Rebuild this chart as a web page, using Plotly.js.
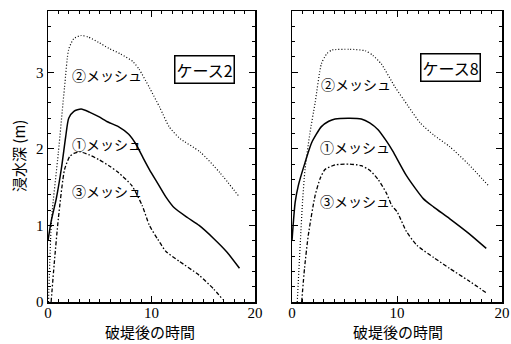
<!DOCTYPE html>
<html>
<head>
<meta charset="utf-8">
<script src="https://cdn.plot.ly/plotly-3.0.1.min.js"></script>
<style>html,body{margin:0;padding:0;background:#fff;}#chart{width:511px;height:344px;}</style>
</head>
<body>
<div id="chart"></div>
<script>
// ---- Data ----
// Case 2 (left panel)
const c2_mesh1_x = [0, 0.3, 0.8, 1.3, 1.7, 2.0, 2.5, 3.2, 4.0, 4.9, 5.8, 6.8, 7.8, 8.5, 9.2, 9.8, 10.6, 11.4, 12.2, 13.5, 14.6, 16.0, 17.3, 18.5];
const c2_mesh1_y = [0.8, 1.05, 1.35, 1.75, 2.15, 2.40, 2.49, 2.52, 2.48, 2.42, 2.35, 2.29, 2.19, 2.06, 1.88, 1.73, 1.55, 1.37, 1.23, 1.10, 1.00, 0.83, 0.65, 0.44];
const c2_mesh2_x = [0.05, 0.35, 1.0, 1.6, 2.0, 2.5, 3.2, 3.9, 4.9, 5.9, 7.0, 8.2, 8.8, 9.8, 10.8, 11.7, 12.7, 14.7, 16.6, 18.5];
const c2_mesh2_y = [0, 1.09, 1.95, 2.81, 3.30, 3.44, 3.48, 3.46, 3.39, 3.31, 3.24, 3.14, 3.04, 2.80, 2.54, 2.29, 2.14, 1.96, 1.69, 1.37];
const c2_mesh3_x = [0.3, 0.6, 1.0, 1.6, 2.1, 2.5, 3.1, 4.0, 4.9, 6.0, 6.8, 8.1, 9.1, 9.8, 10.6, 11.4, 12.7, 14.6, 16.0, 16.9];
const c2_mesh3_y = [0, 0.5, 1.09, 1.73, 1.90, 1.94, 1.96, 1.92, 1.86, 1.77, 1.69, 1.52, 1.26, 1.00, 0.82, 0.66, 0.53, 0.35, 0.17, 0.03];
// Case 8 (right panel)
const c8_mesh1_x = [0, 0.3, 0.6, 1.24, 1.87, 2.8, 3.5, 4.1, 5.5, 6.6, 7.4, 8.2, 9.0, 9.6, 10.9, 12.5, 13.5, 15.0, 16.8, 18.5];
const c8_mesh1_y = [0.8, 1.3, 1.52, 1.82, 2.08, 2.29, 2.36, 2.39, 2.40, 2.39, 2.34, 2.25, 2.10, 1.97, 1.65, 1.35, 1.24, 1.09, 0.90, 0.70];
const c8_mesh2_x = [0.5, 0.8, 1.0, 1.24, 1.7, 2.2, 2.8, 3.3, 3.8, 5.5, 7.0, 7.7, 8.5, 9.8, 11.0, 12.2, 13.5, 15.0, 16.8, 18.7];
const c8_mesh2_y = [0, 0.8, 1.3, 1.73, 2.2, 2.6, 3.11, 3.24, 3.29, 3.30, 3.28, 3.22, 3.11, 2.81, 2.57, 2.34, 2.18, 2.03, 1.80, 1.52];
const c8_mesh3_x = [0.92, 1.2, 1.55, 2.2, 2.7, 3.14, 4.1, 5.5, 6.6, 7.4, 8.2, 9.0, 9.5, 10.0, 10.9, 11.9, 13.5, 15.0, 16.8, 18.5];
const c8_mesh3_y = [0, 0.45, 0.87, 1.39, 1.62, 1.73, 1.79, 1.80, 1.78, 1.72, 1.60, 1.42, 1.26, 1.18, 0.92, 0.74, 0.58, 0.44, 0.28, 0.12];

const seriesLabels = ['①メッシュ', '②メッシュ', '③メッシュ'];
const caseLabels = ['ケース2', 'ケース8'];
const xTitle = '破堤後の時間';
const yTitle = '浸水深 (m)';
const xTicks = [0, 10, 20];
const yTicks = [0, 1, 2, 3];

// ---- Styling ----
const numFont = '"Liberation Serif", "DejaVu Serif", serif';
const jaFont = '"Noto Sans CJK JP", sans-serif';
const styles = [
  {color: 'black', width: 1.5, dash: 'solid'},
  {color: 'black', width: 1.2, dash: '1px,2px'},
  {color: 'black', width: 1.3, dash: '4px,2px,1.5px,2px'}
];

function tr(x, y, i, xa, ya) {
  return {x: x, y: y, xaxis: xa, yaxis: ya, mode: 'lines', name: seriesLabels[i],
    line: Object.assign({shape: 'spline', smoothing: 0.6}, styles[i]), showlegend: false, hoverinfo: 'skip'};
}

const data = [
  tr(c2_mesh1_x, c2_mesh1_y, 0, 'x', 'y'),
  tr(c2_mesh2_x, c2_mesh2_y, 1, 'x', 'y'),
  tr(c2_mesh3_x, c2_mesh3_y, 2, 'x', 'y'),
  tr(c8_mesh1_x, c8_mesh1_y, 0, 'x2', 'y2'),
  tr(c8_mesh2_x, c8_mesh2_y, 1, 'x2', 'y2'),
  tr(c8_mesh3_x, c8_mesh3_y, 2, 'x2', 'y2')
];

function axis(extra) {
  return Object.assign({
    showline: true, linecolor: 'black', linewidth: 1.5, mirror: 'allticks',
    ticks: 'inside', ticklen: 6, tickwidth: 1, tickcolor: 'black',
    showgrid: false, zeroline: false, fixedrange: true,
    tickfont: {family: numFont, size: 15, color: 'black'}
  }, extra);
}

const xCommon = {range: [0, 20], tickmode: 'array', tickvals: xTicks, ticktext: xTicks.map(String),
  ticklabelstandoff: -4,
  minor: {dtick: 1, tick0: 0, ticks: 'inside', ticklen: 3, tickcolor: 'black', tickwidth: 1}};
const yCommon = {range: [0, 3.8], tickmode: 'array', tickvals: yTicks, ticktext: yTicks.map(String),
  minor: {dtick: 0.2, tick0: 0, ticks: 'inside', ticklen: 3, tickcolor: 'black', tickwidth: 1}};

const yDom = [1 - 302/344, 1 - 11/344];

function meshAnn(text, x, y, xr, yr) {
  return {text: text, x: x, y: y, xref: xr, yref: yr, xanchor: 'left', yanchor: 'middle',
    showarrow: false, font: {family: jaFont, size: 14, color: 'black'}};
}
function caseAnn(text, x, y, xr, yr) {
  return {text: text, x: x, y: y, xref: xr, yref: yr, xanchor: 'center', yanchor: 'middle',
    showarrow: false, bordercolor: 'black', borderwidth: 1.5, borderpad: 1, bgcolor: 'white',
    font: {family: jaFont, size: 16, color: 'black'}};
}

const layout = {
  width: 511, height: 344,
  margin: {l: 0, r: 0, t: 0, b: 0},
  paper_bgcolor: 'white', plot_bgcolor: 'white',
  showlegend: false,
  xaxis: axis(Object.assign({domain: [48/511, 255/511], anchor: 'y'}, xCommon)),
  yaxis: axis(Object.assign({domain: yDom, anchor: 'x'}, yCommon)),
  xaxis2: axis(Object.assign({domain: [292/511, 502/511], anchor: 'y2'}, xCommon)),
  yaxis2: axis(Object.assign({domain: yDom, anchor: 'x2', showticklabels: false}, yCommon)),
  annotations: [
    meshAnn(seriesLabels[1], 2.1, 2.97, 'x', 'y'),
    meshAnn(seriesLabels[0], 2.1, 2.06, 'x', 'y'),
    meshAnn(seriesLabels[2], 2.1, 1.45, 'x', 'y'),
    meshAnn(seriesLabels[1], 2.6, 2.85, 'x2', 'y2'),
    meshAnn(seriesLabels[0], 2.5, 2.03, 'x2', 'y2'),
    meshAnn(seriesLabels[2], 2.5, 1.32, 'x2', 'y2'),
    caseAnn(caseLabels[0], 15.1, 3.04, 'x', 'y'),
    caseAnn(caseLabels[1], 15.1, 3.06, 'x2', 'y2'),
    {text: xTitle, xref: 'paper', yref: 'paper', x: 150/511, y: 0, xanchor: 'center', yanchor: 'bottom',
      showarrow: false, font: {family: jaFont, size: 15, color: 'black'}},
    {text: xTitle, xref: 'paper', yref: 'paper', x: 398/511, y: 0, xanchor: 'center', yanchor: 'bottom',
      showarrow: false, font: {family: jaFont, size: 15, color: 'black'}},
    {text: yTitle, xref: 'paper', yref: 'paper', x: 19/511, y: 1 - 156/344, xanchor: 'center', yanchor: 'middle',
      textangle: -90, showarrow: false, font: {family: jaFont, size: 15, color: 'black'}}
  ]
};

Plotly.newPlot('chart', data, layout, {staticPlot: true, displayModeBar: false});
</script>
</body>
</html>
